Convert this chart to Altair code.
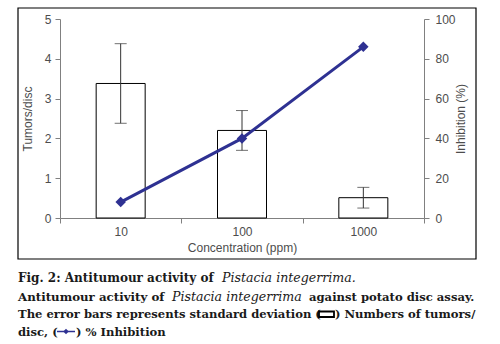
import altair as alt
import pandas as pd

concentrations = ["10", "100", "1000"]
tumors_per_disc = [3.38, 2.2, 0.51]
tumors_sd = [1.0, 0.5, 0.26]
inhibition_pct = [8, 40, 86]

caption_segments = [
    "Fig. 2: Antitumour activity of ",
    "Pistacia integerrima.",
    "Antitumour activity of ",
    "Pistacia integerrima",
    "against potato disc assay.",
    "The error bars represents standard deviation (",
    ") Numbers of tumors/",
    "disc, (",
    ") % Inhibition",
]

df = pd.DataFrame({
    "conc": concentrations,
    "tumors": tumors_per_disc,
    "lo": [t - s for t, s in zip(tumors_per_disc, tumors_sd)],
    "hi": [t + s for t, s in zip(tumors_per_disc, tumors_sd)],
    "inhib": inhibition_pct,
})
one = pd.DataFrame({"k": [0]})

NAVY = "#2E3192"
AXC = "#808080"
LBL = "#4d4d4d"

xenc = alt.X("conc:N", sort=concentrations,
             scale=alt.Scale(paddingInner=0, paddingOuter=0),
             axis=alt.Axis(title="Concentration (ppm)", labelAngle=0, tickBand="extent",
                           titlePadding=5, labelPadding=3))
yleft = alt.Scale(domain=[0, 5])
left_axis = alt.Axis(title="Tumors/disc", values=[0, 1, 2, 3, 4, 5], labelOverlap=False,
                     titlePadding=10, labelPadding=4)

bars = alt.Chart(df).mark_bar(size=49, fill="white", stroke="black", strokeWidth=1).encode(
    x=xenc,
    y=alt.Y("tumors:Q", scale=yleft, axis=left_axis),
)
err = alt.Chart(df).mark_rule(color="#333333", strokeWidth=1).encode(
    x=alt.X("conc:N", sort=concentrations),
    y=alt.Y("lo:Q", scale=yleft, axis=left_axis, title="Tumors/disc"), y2="hi:Q")
cap_hi = alt.Chart(df).mark_tick(color="#333333", thickness=1, size=12).encode(
    x=alt.X("conc:N", sort=concentrations),
    y=alt.Y("hi:Q", scale=yleft, axis=left_axis, title="Tumors/disc"))
cap_lo = alt.Chart(df).mark_tick(color="#333333", thickness=1, size=12).encode(
    x=alt.X("conc:N", sort=concentrations),
    y=alt.Y("lo:Q", scale=yleft, axis=left_axis, title="Tumors/disc"))
left = alt.layer(bars, err, cap_hi, cap_lo)

yright = alt.Y("inhib:Q", scale=alt.Scale(domain=[0, 100]),
               axis=alt.Axis(title="Inhibition (%)", orient="right", values=[0, 20, 40, 60, 80, 100],
                             labelOverlap=False, titleAngle=270, titlePadding=12, labelPadding=6))
line = alt.Chart(df).mark_line(color=NAVY, strokeWidth=3).encode(
    x=alt.X("conc:N", sort=concentrations), y=yright)
pts = alt.Chart(df).mark_point(shape="diamond", filled=True, color=NAVY, size=110, opacity=1).encode(
    x=alt.X("conc:N", sort=concentrations), y=yright)
right = alt.layer(line, pts)

frame = alt.Chart(one).mark_rect(fill=None, stroke="black", strokeWidth=1.2).encode(
    x=alt.value(-42), x2=alt.value(416), y=alt.value(-11), y2=alt.value(240))

FONT = "DejaVu Serif"
placements = [
    (-42, 263, "bold", "normal", 12.0),
    (162, 263, "normal", "italic", 12.6),
    (-42, 281.5, "bold", "normal", 11.8),
    (112, 281.5, "normal", "italic", 12.6),
    (249, 281.5, "bold", "normal", 11.6),
    (-42, 299, "bold", "normal", 11.6),
    (275, 299, "bold", "normal", 11.6),
    (-42, 316.5, "bold", "normal", 11.6),
    (16, 316.5, "bold", "normal", 11.6),
]
texts = []
for seg, (x, y, w, st, fs) in zip(caption_segments, placements):
    texts.append(alt.Chart(one).mark_text(font=FONT, fontSize=fs, fontWeight=w, fontStyle=st,
                                          align="left", baseline="alphabetic", color="#1a1a1a").encode(
        x=alt.value(x), y=alt.value(y), text=alt.value(seg)))

icon_rect = alt.Chart(one).mark_rect(fill="white", stroke="black", strokeWidth=1.8).encode(
    x=alt.value(259), x2=alt.value(274), y=alt.value(292.5), y2=alt.value(298))
icon_line = alt.Chart(one).mark_rule(color=NAVY, strokeWidth=1.5).encode(
    x=alt.value(-3), x2=alt.value(15), y=alt.value(312.5))
icon_pt = alt.Chart(one).mark_point(shape="diamond", filled=True, color=NAVY, size=30, opacity=1).encode(
    x=alt.value(6), y=alt.value(312.5))

chart = alt.layer(left, right, frame, *texts, icon_rect, icon_line, icon_pt).resolve_scale(
    y="independent"
).properties(
    width=364, height=199,
    autosize=alt.AutoSizeParams(type="none"),
    padding={"left": 60, "top": 19, "right": 76, "bottom": 126},
).configure_view(stroke=None).configure_axis(
    grid=False, domainColor=AXC, tickColor=AXC, labelColor=LBL, titleColor=LBL,
    labelFont="Liberation Sans", titleFont="Liberation Sans", labelFontSize=12,
    titleFontSize=12, titleFontWeight="normal", tickSize=5,
)

chart.save("out.html", embed_options={"renderer": "svg", "actions": False})
